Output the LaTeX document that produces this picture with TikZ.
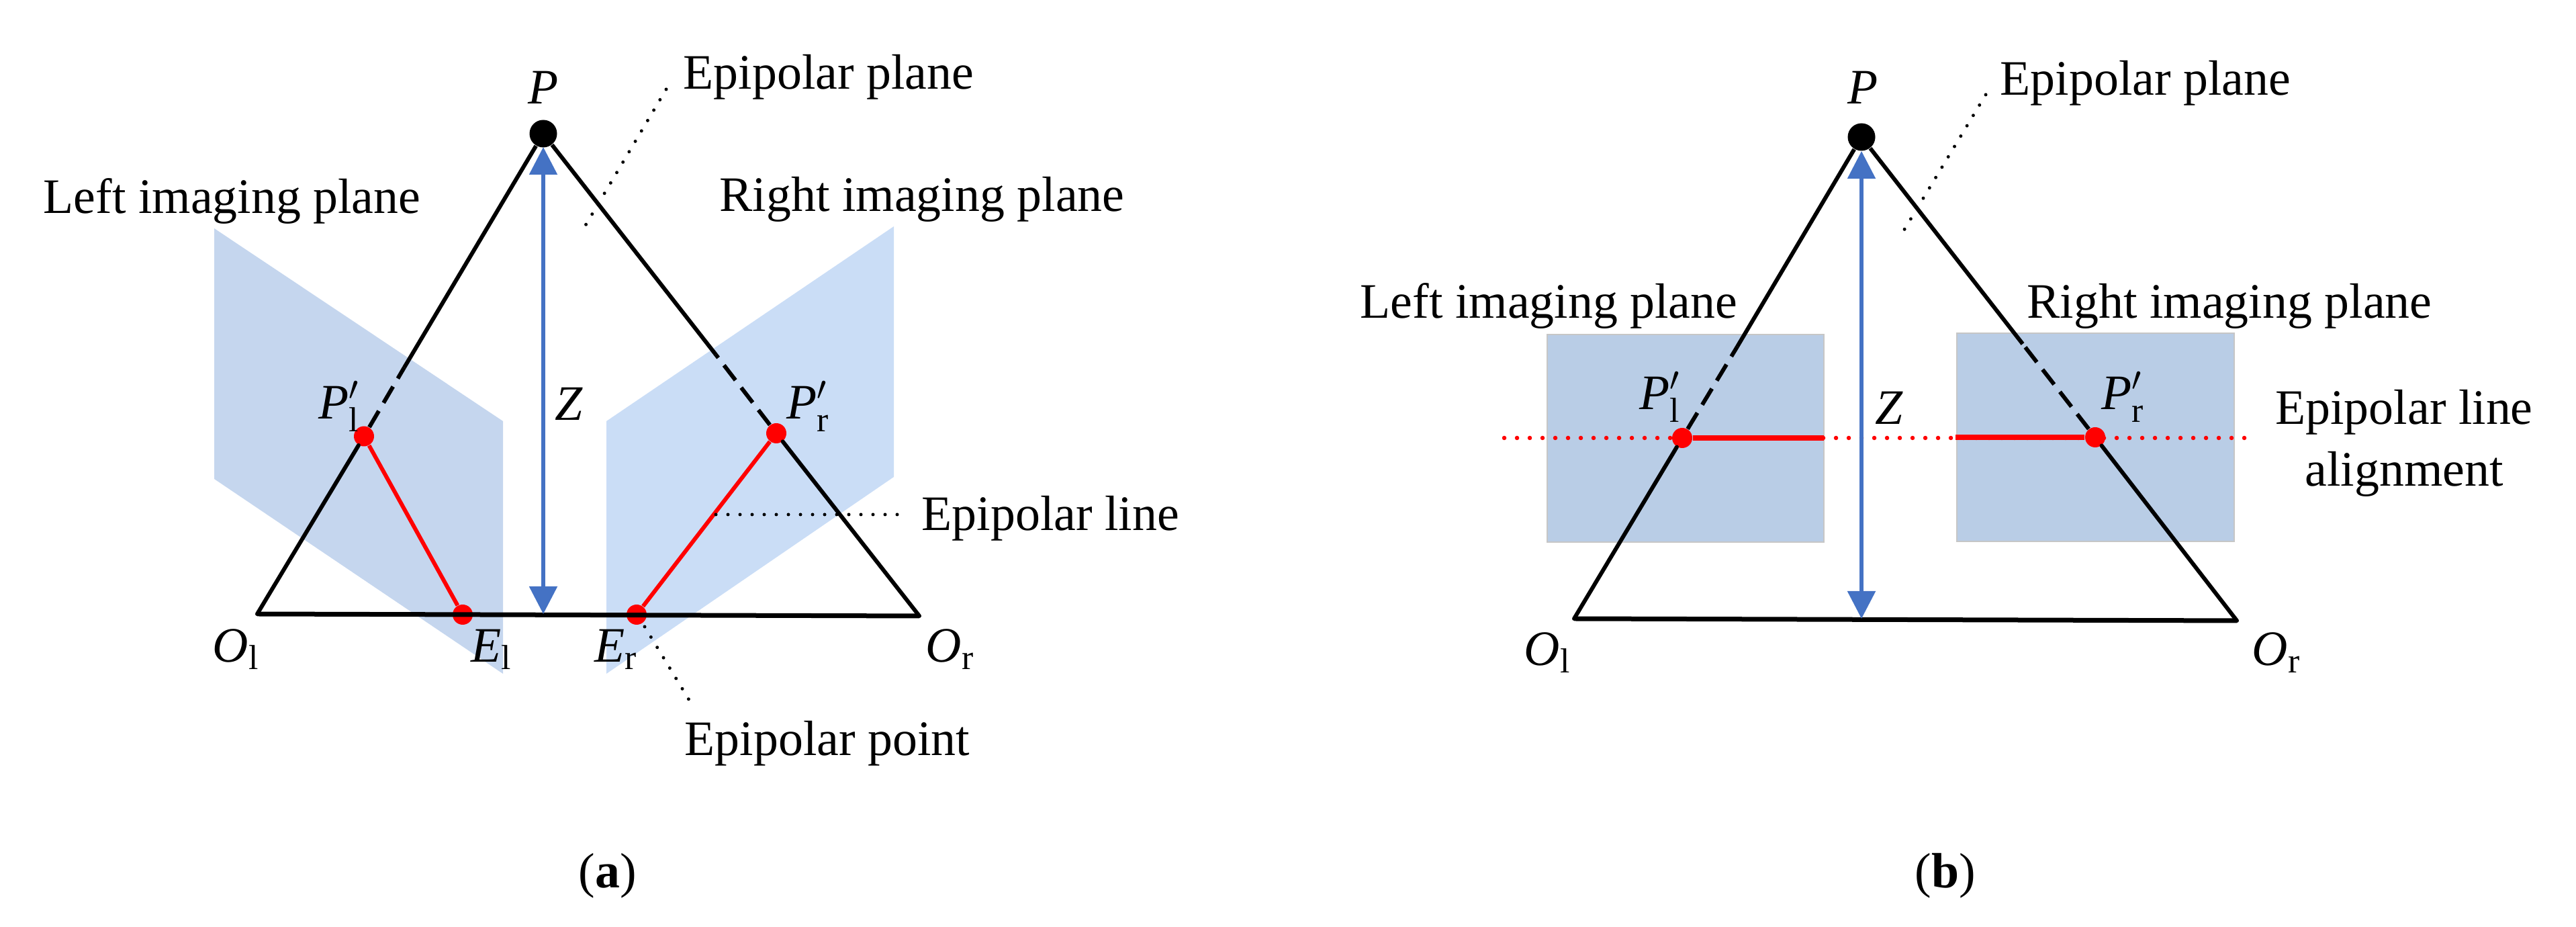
\documentclass[tikz,border=0pt]{standalone}
\usepackage{fontspec}
\setmainfont{Liberation Serif}
\usetikzlibrary{arrows.meta}
\definecolor{planeL}{HTML}{C5D6EE}
\definecolor{planeR}{HTML}{CADDF6}
\definecolor{planeB}{HTML}{B9CDE6}
\definecolor{arrowblue}{HTML}{4472C4}
\tikzset{
  edge/.style={line width=0.06cm,black},
  brokenedge/.style={edge,dash pattern=on 0.28cm off 0.14cm},
  redline/.style={line width=0.06cm,red},
  depth/.style={line width=0.055cm,arrowblue,{Triangle[width=0.41cm,length=0.41cm]}-{Triangle[width=0.41cm,length=0.41cm]}},
  leader/.style={line width=0.05cm,line cap=round,dash pattern=on 0pt off 0.18cm},
  redleader/.style={line width=0.065cm,red,line cap=round,dash pattern=on 0pt off 0.19cm},
  reddot/.style={circle,fill=red,inner sep=0pt,minimum size=0.30cm},
  blackdot/.style={circle,fill=black,inner sep=0pt,minimum size=0.41cm},
  lbl/.style={inner sep=0pt,anchor=base west,font=\fontsize{21}{26}\selectfont},
}
\newcommand{\ptname}[2]{$\textit{#1}_{\mathrm{#2}}$}
\newcommand{\ptprime}[2]{$\textit{#1}'_{\mathrm{#2}}$}

\begin{document}
\begin{tikzpicture}
\useasboundingbox (0,0) rectangle (38.36,13.8);

% (a) Imaging planes
\fill[planeL] (3.19,10.40) -- (7.49,7.53) -- (7.49,3.77) -- (3.19,6.67) -- cycle;
\fill[planeR] (9.03,7.53) -- (13.31,10.43) -- (13.31,6.70) -- (9.03,3.77) -- cycle;

% (a) Points
\node[blackdot] (Pa) at (8.09,11.81) {};
\node[reddot] (PlA) at (5.42,7.305) {};
\node[reddot] (PrA) at (11.56,7.35) {};
\node[reddot] (ElA) at (6.89,4.65) {};
\node[reddot] (ErA) at (9.48,4.65) {};
\coordinate (OlA) at (3.83,4.66);
\coordinate (OrA) at (13.69,4.63);
\coordinate (brkLA) at (6.02,8.33);
\coordinate (brkRA) at (10.66,8.52);
\coordinate (topA) at (8.09,11.61);
\coordinate (botA) at (8.09,4.66);

% (a) Triangle
\draw[edge,line width=0.07cm] (OlA) -- (OrA);
\draw[edge,line cap=round] (OlA) -- (PlA);
\draw[brokenedge] (PlA) -- (brkLA);
\draw[edge] (brkLA) -- (Pa);
\draw[edge,line cap=round] (OrA) -- (PrA);
\draw[brokenedge] (PrA) -- (brkRA);
\draw[edge] (brkRA) -- (Pa);
\draw[redline] (PlA) -- (ElA);
\draw[redline] (PrA) -- (ErA);
\draw[depth] (topA) -- (botA);

% (a) Leaders
\coordinate (planeA1) at (9.92,12.47);
\coordinate (planeA2) at (8.65,10.33);
\coordinate (lineA1) at (10.66,6.14);
\coordinate (lineA2) at (13.50,6.14);
\coordinate (pointA1) at (9.60,4.47);
\coordinate (pointA2) at (10.31,3.30);
\draw[leader] (planeA1) -- (planeA2);
\draw[leader] (lineA1) -- (lineA2);
\draw[leader] (pointA1) -- (pointA2);

% (a) Labels
\node[lbl] (epiplaneA) at (10.17,12.47) {Epipolar plane};
\node[lbl] (rightA) at (10.71,10.65) {Right imaging plane};
\node[lbl] (leftA) at (0.64,10.62) {Left imaging plane};
\node[lbl] (epilineA) at (13.72,5.90) {Epipolar line};
\node[lbl] (epipointA) at (10.19,2.55) {Epipolar point};
\node[lbl,anchor=base] (tagPa) at (8.09,12.25) {\textit{P}};
\node[lbl] (tagZa) at (8.26,7.54) {\textit{Z}};
\node[lbl] (tagPlA) at (4.74,7.56) {\ptprime{P}{l}};
\node[lbl] (tagPrA) at (11.71,7.56) {\ptprime{P}{r}};
\node[lbl] (tagOlA) at (3.16,3.94) {\ptname{O}{l}};
\node[lbl] (tagElA) at (7.01,3.94) {\ptname{E}{l}};
\node[lbl] (tagErA) at (8.85,3.94) {\ptname{E}{r}};
\node[lbl] (tagOrA) at (13.78,3.94) {\ptname{O}{r}};
\node[lbl,anchor=base] (capA) at (9.05,0.58) {(\textbf{a})};

% (b) Imaging planes
\node[draw=gray!45,fill=planeB,line width=0.02cm,inner sep=0pt,minimum width=4.12cm,minimum height=3.09cm] (rectL) at (25.10,7.275) {};
\node[draw=gray!45,fill=planeB,line width=0.02cm,inner sep=0pt,minimum width=4.13cm,minimum height=3.10cm] (rectR) at (31.205,7.29) {};

% (b) Points
\node[blackdot] (Pb) at (27.72,11.76) {};
\node[reddot] (PlB) at (25.05,7.28) {};
\node[reddot] (PrB) at (31.20,7.29) {};
\coordinate (OlB) at (23.44,4.59);
\coordinate (OrB) at (33.31,4.56);
\coordinate (brkLB) at (25.87,8.64);
\coordinate (brkRB) at (30.12,8.68);
\coordinate (topB) at (27.72,11.55);
\coordinate (botB) at (27.72,4.59);
\coordinate (redL) at (27.16,7.28);
\coordinate (redR) at (29.12,7.29);
\coordinate (dotL) at (22.40,7.28);
\coordinate (dotR) at (33.56,7.28);

% (b) Triangle
\draw[redleader] (dotL) -- (dotR);
\draw[edge,line width=0.07cm] (OlB) -- (OrB);
\draw[edge,line cap=round] (OlB) -- (PlB);
\draw[brokenedge] (PlB) -- (brkLB);
\draw[edge] (brkLB) -- (Pb);
\draw[edge,line cap=round] (OrB) -- (PrB);
\draw[brokenedge] (PrB) -- (brkRB);
\draw[edge] (brkRB) -- (Pb);
\draw[redline,line width=0.075cm] (PlB) -- (redL);
\draw[redline,line width=0.075cm] (PrB) -- (redR);
\draw[depth] (topB) -- (botB);

% (b) Leader
\coordinate (planeB1) at (29.57,12.39);
\coordinate (planeB2) at (28.29,10.27);
\draw[leader] (planeB1) -- (planeB2);

% (b) Labels
\node[lbl] (epiplaneB) at (29.78,12.38) {Epipolar plane};
\node[lbl] (leftB) at (20.25,9.06) {Left imaging plane};
\node[lbl] (rightB) at (30.18,9.06) {Right imaging plane};
\node[lbl,anchor=center,align=center] (epilineB) at (35.80,7.20) {Epipolar line\\alignment};
\node[lbl,anchor=base] (tagPb) at (27.74,12.25) {\textit{P}};
\node[lbl] (tagZb) at (27.92,7.48) {\textit{Z}};
\node[lbl] (tagPlB) at (24.41,7.70) {\ptprime{P}{l}};
\node[lbl] (tagPrB) at (31.29,7.70) {\ptprime{P}{r}};
\node[lbl] (tagOlB) at (22.69,3.89) {\ptname{O}{l}};
\node[lbl] (tagOrB) at (33.53,3.89) {\ptname{O}{r}};
\node[lbl,anchor=base] (capB) at (28.97,0.58) {(\textbf{b})};

\end{tikzpicture}
\end{document}
